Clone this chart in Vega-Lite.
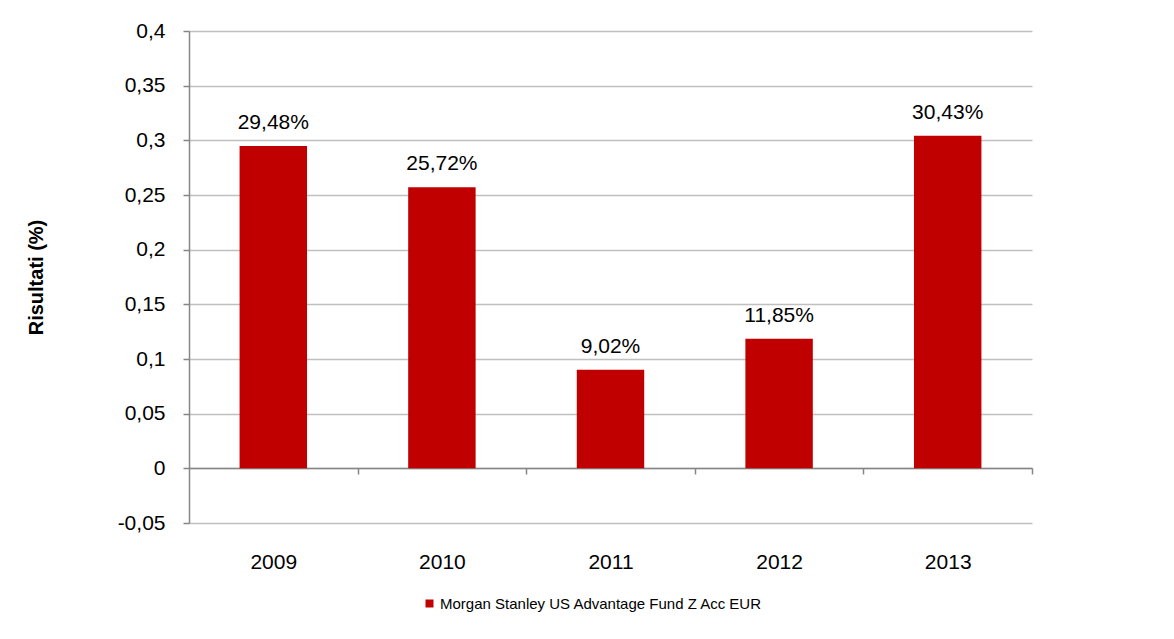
{
  "$schema": "https://vega.github.io/schema/vega-lite/v6.json",
  "width": 843,
  "height": 492,
  "autosize": {"type": "none"},
  "padding": {"left": 189, "top": 31, "right": 142, "bottom": 116},
  "background": "white",
  "config": {
    "font": "Liberation Sans",
    "view": {"stroke": null},
    "axis": {"labelFont": "Liberation Sans", "titleFont": "Liberation Sans", "labelColor": "#000000", "titleColor": "#000000"}
  },
  "data": {
    "values": [
      {"year": "2009", "value": 0.2948, "label": "29,48%", "series": "Morgan Stanley US Advantage Fund Z Acc EUR"},
      {"year": "2010", "value": 0.2572, "label": "25,72%", "series": "Morgan Stanley US Advantage Fund Z Acc EUR"},
      {"year": "2011", "value": 0.0902, "label": "9,02%", "series": "Morgan Stanley US Advantage Fund Z Acc EUR"},
      {"year": "2012", "value": 0.1185, "label": "11,85%", "series": "Morgan Stanley US Advantage Fund Z Acc EUR"},
      {"year": "2013", "value": 0.3043, "label": "30,43%", "series": "Morgan Stanley US Advantage Fund Z Acc EUR"}
    ]
  },
  "encoding": {
    "x": {
      "field": "year", "type": "nominal",
      "scale": {"paddingInner": 0.6, "paddingOuter": 0.3},
      "axis": {
        "title": null, "labelAngle": 0, "offset": -55,
        "domainColor": "#868686", "domainWidth": 1.5,
        "tickColor": "#868686", "tickWidth": 1.5, "tickSize": 6,
        "tickOffset": 84.3, "labelOffset": -84.3,
        "labelFontSize": 21, "labelPadding": 77, "grid": false
      }
    },
    "y": {
      "field": "value", "type": "quantitative",
      "scale": {"domain": [-0.05, 0.4], "nice": false, "zero": false},
      "axis": {
        "title": "Risultati (%)", "titleFontSize": 20, "titleFontWeight": "bold",
        "titlePadding": 71,
        "values": [-0.05, 0, 0.05, 0.1, 0.15, 0.2, 0.25, 0.3, 0.35, 0.4],
        "labelExpr": "replace(replace(format(datum.value, '.2~f'), '.', ','), '\u2212', '-')",
        "labelFontSize": 21, "labelPadding": 18,
        "domainColor": "#868686", "domainWidth": 1.5,
        "tickColor": "#868686", "tickWidth": 1.5, "tickSize": 6,
        "grid": true, "gridColor": "#c0c0c0", "gridWidth": 1.5
      }
    }
  },
  "layer": [
    {
      "mark": {"type": "bar"},
      "encoding": {
        "color": {
          "field": "series", "type": "nominal",
          "scale": {"range": ["#C00000"]},
          "legend": {
            "title": null, "orient": "none", "legendX": 233, "legendY": 565,
            "symbolType": "square", "symbolSize": 64, "symbolStrokeWidth": 0,
            "labelFontSize": 15, "labelColor": "#000000", "labelFont": "Liberation Sans",
            "labelLimit": 0, "padding": 0, "labelOffset": 3
          }
        }
      }
    },
    {
      "mark": {"type": "text", "fontSize": 21, "baseline": "middle", "dy": -23, "color": "#000000"},
      "encoding": {"text": {"field": "label"}}
    }
  ]
}
